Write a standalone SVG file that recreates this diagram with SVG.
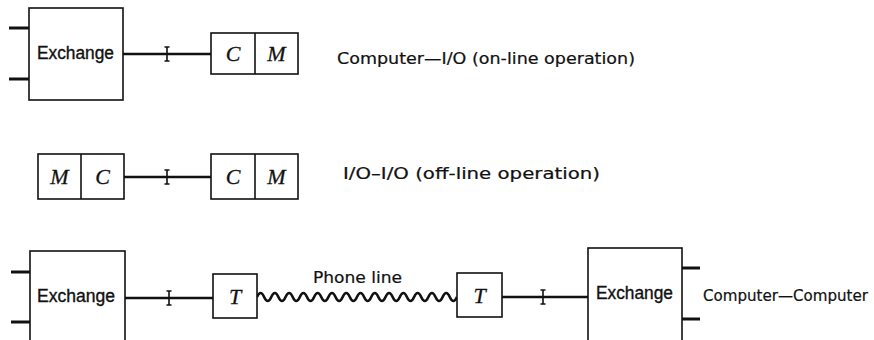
<svg xmlns="http://www.w3.org/2000/svg" width="874" height="340" viewBox="0 0 874 340">
<style>
.box{fill:#fff;stroke:#111;stroke-width:1.6}
.stub{stroke:#111;stroke-width:3;fill:none}
.con{stroke:#111;stroke-width:2.4;fill:none}
.wave{stroke:#111;stroke-width:2.6;fill:none}
.tick{stroke:#111;stroke-width:1.6;fill:none}
.ex{font-family:"Liberation Sans",Arial,sans-serif;font-size:17.5px;fill:#111;stroke:#111;stroke-width:0.35}
.lbl{font-family:"DejaVu Sans",sans-serif;font-size:15px;fill:#111;stroke:#111;stroke-width:0.2}
.it{font-family:"Liberation Serif",serif;font-style:italic;font-size:22px;fill:#111;text-anchor:middle;stroke:#111;stroke-width:0.3}
</style>
<defs>
<path id="tk" class="tick" d="M-2.5,-7 h5 M0,-7 v14 M-2.5,7 h5"/>
</defs>
<g id="connectors">
<line class="con" x1="123" y1="54" x2="211" y2="54"/>
<use href="#tk" x="167" y="54"/>
<line class="con" x1="124" y1="177" x2="211" y2="177"/>
<use href="#tk" x="167" y="177"/>
<line class="con" x1="125" y1="298" x2="213" y2="298"/>
<use href="#tk" x="169" y="298"/>
<path class="wave" d="M257,297 q3.57,-8 7.14,0 t7.14,0 t7.14,0 t7.14,0 t7.14,0 t7.14,0 t7.14,0 t7.14,0 t7.14,0 t7.14,0 t7.14,0 t7.14,0 t7.14,0 t7.14,0 t7.14,0 t7.14,0 t7.14,0 t7.14,0 t7.14,0 t7.14,0 t7.14,0 t7.14,0 t7.14,0 t7.14,0 t7.14,0 t7.14,0 t7.14,0 t7.14,0"/>
<line class="con" x1="502" y1="297" x2="588" y2="297"/>
<use href="#tk" x="543" y="297"/>
</g>
<g id="exchange1">
<line class="stub" x1="9" y1="28" x2="29" y2="28"/>
<line class="stub" x1="9" y1="79" x2="29" y2="79"/>
<rect class="box" x="29" y="8" width="94" height="92"/>
<text class="ex" x="37" y="59" textLength="77" lengthAdjust="spacingAndGlyphs">Exchange</text>
</g>
<g id="cm1">
<rect class="box" x="211" y="33" width="87" height="41"/>
<line class="box" x1="255" y1="33" x2="255" y2="74"/>
<text class="it" x="233" y="61">C</text>
<text class="it" x="276.5" y="61">M</text>
</g>
<text class="lbl" x="337" y="64" textLength="298" lengthAdjust="spacingAndGlyphs">Computer—I/O  (on-line operation)</text>
<g id="mc2">
<rect class="box" x="38" y="154" width="86" height="45"/>
<line class="box" x1="81" y1="154" x2="81" y2="199"/>
<text class="it" x="59.5" y="184">M</text>
<text class="it" x="102.5" y="184">C</text>
</g>
<g id="cm2">
<rect class="box" x="211" y="154" width="87" height="45"/>
<line class="box" x1="255" y1="154" x2="255" y2="199"/>
<text class="it" x="233" y="184">C</text>
<text class="it" x="276.5" y="184">M</text>
</g>
<text class="lbl" x="343" y="179" textLength="257" lengthAdjust="spacingAndGlyphs">I/O–I/O  (off-line operation)</text>
<g id="exchange2">
<line class="stub" x1="11" y1="272" x2="30" y2="272"/>
<line class="stub" x1="11" y1="322" x2="30" y2="322"/>
<rect class="box" x="30" y="251" width="95" height="100"/>
<text class="ex" x="37" y="302" textLength="78" lengthAdjust="spacingAndGlyphs">Exchange</text>
</g>
<g id="t1">
<rect class="box" x="213" y="274" width="44" height="44"/>
<text class="it" x="235" y="304">T</text>
</g>
<text class="lbl" x="313" y="283" textLength="89" lengthAdjust="spacingAndGlyphs">Phone line</text>
<g id="t2">
<rect class="box" x="457" y="273" width="45" height="44"/>
<text class="it" x="479.5" y="303">T</text>
</g>
<g id="exchange3">
<line class="stub" x1="682" y1="268" x2="700" y2="268"/>
<line class="stub" x1="682" y1="319" x2="700" y2="319"/>
<rect class="box" x="588" y="248" width="94" height="100"/>
<text class="ex" x="596" y="299" textLength="77" lengthAdjust="spacingAndGlyphs">Exchange</text>
</g>
<text class="lbl" x="703" y="301" textLength="165" lengthAdjust="spacingAndGlyphs">Computer—Computer</text>
</svg>
